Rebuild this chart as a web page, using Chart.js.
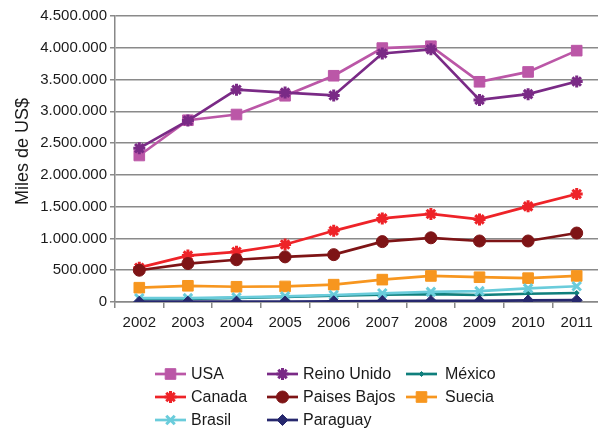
<!DOCTYPE html>
<html lang="es">
<head>
<meta charset="UTF-8">
<title>Miles de US$</title>
<style>
  html, body { margin: 0; padding: 0; background: #fff; overflow: hidden; }
  .chart-container { position: relative; width: 610px; height: 433px; }
</style>
</head>
<body>
<div class="chart-container">
  <canvas id="chart"></canvas>
</div>
<script src="https://cdn.jsdelivr.net/npm/chart.js"></script>
<script>
const years = ['2002', '2003', '2004', '2005', '2006', '2007', '2008', '2009', '2010', '2011'];

const usa         = [2305000, 2860000, 2950000, 3245000, 3560000, 3995000, 4025000, 3465000, 3620000, 3955000];
const reinoUnido  = [2420000, 2855000, 3340000, 3295000, 3250000, 3910000, 3975000, 3180000, 3270000, 3470000];
const mexico      = [45000, 50000, 65000, 80000, 100000, 115000, 125000, 110000, 130000, 142000];
const canada      = [540000, 730000, 790000, 905000, 1120000, 1315000, 1385000, 1300000, 1505000, 1700000];
const paisesBajos = [500000, 605000, 665000, 710000, 745000, 950000, 1010000, 960000, 960000, 1085000];
const suecia      = [225000, 255000, 240000, 245000, 273000, 352000, 410000, 390000, 375000, 410000];
const brasil      = [60000, 62000, 72000, 88000, 110000, 137000, 160000, 172000, 215000, 248000];
const paraguay    = [5000, 5000, 6000, 8000, 12000, 15000, 17000, 18000, 25000, 28000];

const yTitle = '   Miles de US$';

const FONT = '"Liberation Sans", Arial, sans-serif';

function fmt(v) {
  return String(v).replace(/\B(?=(\d{3})+(?!\d))/g, '.');
}

function series(label, data, color, style, radius, bw, i) {
  return {
    label: label,
    data: data,
    borderColor: color,
    backgroundColor: color,
    pointBackgroundColor: color,
    pointBorderColor: color,
    pointStyle: style,
    pointRadius: radius,
    pointBorderWidth: bw,
    borderWidth: 2.7,
    tension: 0,
    order: 10 - i
  };
}

const datasets = [
  series('USA', usa, '#BB57A7', 'rect', 7.5, 1, 0),
  series('Reino Unido', reinoUnido, '#7A2A86', 'star', 6, 3, 1),
  series('México', mexico, '#0F7F7C', 'rectRot', 2.5, 1, 2),
  series('Canada', canada, '#EE2328', 'star', 6, 3, 3),
  series('Paises Bajos', paisesBajos, '#7E1416', 'circle', 6, 1, 4),
  series('Suecia', suecia, '#F7961F', 'rect', 7.5, 1, 5),
  series('Brasil', brasil, '#6ACCDB', 'crossRot', 6, 3, 6),
  series('Paraguay', paraguay, '#27286E', 'rectRot', 5.5, 1, 7)
];

// leyenda en rejilla de 3 columnas
const gridLegend = {
  id: 'gridLegend',
  afterDraw(chart) {
    const ctx = chart.ctx;
    const cols = [155, 267, 406];
    const rows = [374, 397, 420];
    ctx.save();
    chart.data.datasets.forEach((ds, i) => {
      const cx = cols[i % 3];
      const cy = rows[Math.floor(i / 3)];
      ctx.strokeStyle = ds.borderColor;
      ctx.lineWidth = 2.7;
      ctx.beginPath();
      ctx.moveTo(cx, cy);
      ctx.lineTo(cx + 31, cy);
      ctx.stroke();
      ctx.fillStyle = ds.backgroundColor;
      ctx.lineWidth = ds.pointBorderWidth;
      Chart.helpers.drawPoint(ctx, {
        pointStyle: ds.pointStyle,
        rotation: 0,
        radius: ds.pointRadius,
        borderWidth: ds.pointBorderWidth
      }, cx + 15.5, cy);
      ctx.fillStyle = '#1a1a1a';
      ctx.font = '16px ' + FONT;
      ctx.textBaseline = 'middle';
      ctx.textAlign = 'left';
      ctx.fillText(ds.label, cx + (i % 3 === 2 ? 39 : 36), cy + 1);
    });
    ctx.restore();
  }
};

new Chart(document.getElementById('chart').getContext('2d'), {
  type: 'line',
  data: { labels: years, datasets: datasets },
  plugins: [gridLegend],
  options: {
    responsive: true,
    maintainAspectRatio: false,
    animation: false,
    layout: { padding: { top: 16, right: 0, bottom: 100, left: 0 } },
    plugins: {
      legend: { display: false },
      tooltip: { enabled: false }
    },
    scales: {
      x: {
        offset: true,
        afterFit(scale) { scale.height = 31; },
        grid: {
          offset: true,
          drawOnChartArea: false,
          drawTicks: true,
          tickLength: 6,
          color: '#888',
          lineWidth: 1.5
        },
        border: { color: '#888', width: 1.5 },
        ticks: { color: '#1a1a1a', font: { family: FONT, size: 15 }, padding: 6 }
      },
      y: {
        min: 0,
        max: 4500000,
        afterFit(scale) { scale.width = 115; },
        grid: {
          color: '#8a8a8a',
          lineWidth: 1.5,
          tickLength: 5
        },
        border: { color: '#888', width: 1.5 },
        ticks: {
          stepSize: 500000,
          color: '#1a1a1a',
          font: { family: FONT, size: 15 },
          padding: 3,
          callback: (v) => fmt(v)
        },
        title: {
          display: true,
          text: yTitle,
          color: '#1a1a1a',
          font: { family: FONT, size: 18 },
          padding: { top: 12, bottom: 2 }
        }
      }
    }
  }
});
</script>
</body>
</html>
